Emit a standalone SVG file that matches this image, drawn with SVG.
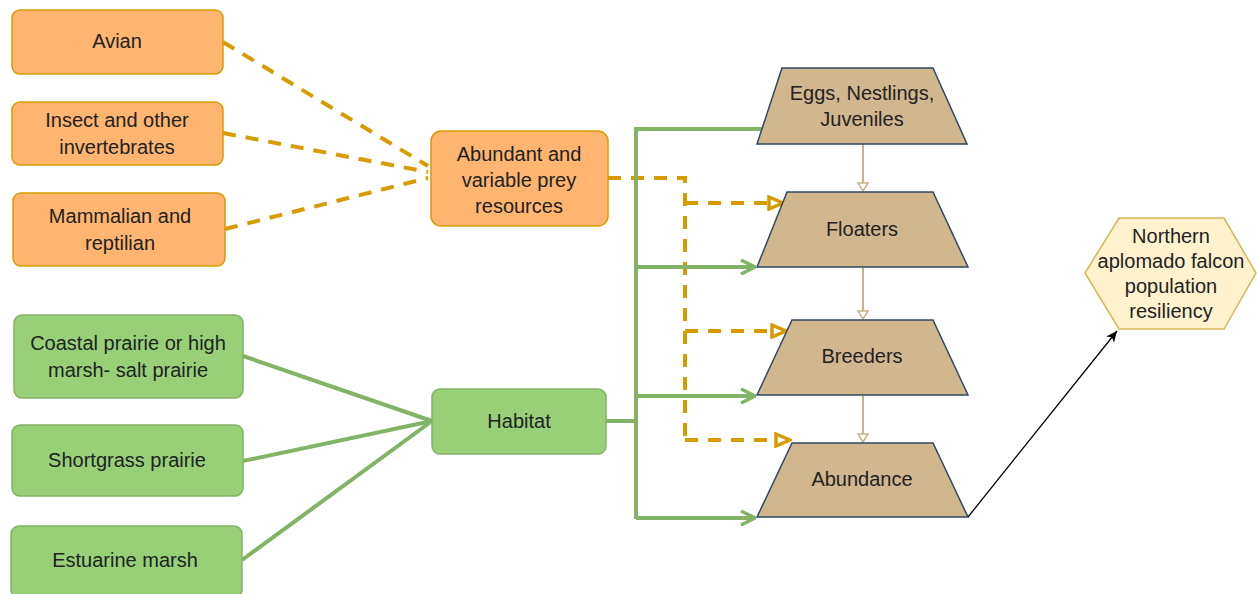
<svg xmlns="http://www.w3.org/2000/svg" width="1257" height="594" viewBox="0 0 1257 594">
<style>
.o{fill:#ffb570;stroke:#d79b00;stroke-width:1.5}
.g{fill:#97d077;stroke:#82b366;stroke-width:1.5}
.t{fill:#d0b78e;stroke:#2e4a62;stroke-width:1.5}
.h{fill:#fff2cc;stroke:#d6b656;stroke-width:1.5}
text{font-family:"Liberation Sans",Arial,sans-serif;font-size:20px;fill:#222;text-anchor:middle}
.od{fill:none;stroke:#d79b00;stroke-width:4;stroke-dasharray:13 10}
.gl{fill:none;stroke:#82b366;stroke-width:4}
.tl{fill:none;stroke:#c9b18a;stroke-width:2}
</style>
<defs>
<marker id="ao" viewBox="0 0 18 16" refX="17" refY="8" markerWidth="18" markerHeight="16" markerUnits="userSpaceOnUse" orient="auto"><path d="M2,2 L16,8 L2,14 Z" fill="#fff" stroke="#d79b00" stroke-width="3.5"/></marker>
<marker id="ag" viewBox="0 0 16 16" refX="15" refY="8" markerWidth="16" markerHeight="16" markerUnits="userSpaceOnUse" orient="auto"><path d="M1,1 L15,8 L1,15" fill="none" stroke="#82b366" stroke-width="3.5"/></marker>
<marker id="at" viewBox="0 0 10 12" refX="9" refY="6" markerWidth="10" markerHeight="12" markerUnits="userSpaceOnUse" orient="auto"><path d="M1,1 L9,6 L1,11 Z" fill="#fff" stroke="#c9b18a" stroke-width="1.5"/></marker>
<marker id="ab" viewBox="0 0 12 12" refX="11" refY="6" markerWidth="12" markerHeight="12" markerUnits="userSpaceOnUse" orient="auto"><path d="M0,1 L11,6 L0,11 L3,6 Z" fill="#000"/></marker>
</defs>
<g id="connectors">
<line class="od" x1="223" y1="42" x2="428" y2="166"/>
<line class="od" x1="223" y1="133" x2="428" y2="172"/>
<line class="od" x1="225" y1="229" x2="428" y2="178"/>
<polyline class="od" points="608,178 685,178 685,440"/>
<line class="od" x1="685" y1="203" x2="784" y2="203" marker-end="url(#ao)"/>
<line class="od" x1="685" y1="331" x2="787" y2="331" marker-end="url(#ao)"/>
<line class="od" x1="685" y1="440" x2="791" y2="440" marker-end="url(#ao)"/>
<line class="gl" x1="243" y1="356" x2="432" y2="421"/>
<line class="gl" x1="243" y1="461" x2="432" y2="421"/>
<line class="gl" x1="242" y1="560" x2="432" y2="421"/>
<polyline class="gl" points="606,421 636,421"/>
<polyline class="gl" points="772,129 636,129 636,519"/>
<line class="gl" x1="636" y1="267" x2="755" y2="267" marker-end="url(#ag)"/>
<line class="gl" x1="636" y1="396" x2="755" y2="396" marker-end="url(#ag)"/>
<line class="gl" x1="636" y1="518" x2="755" y2="518" marker-end="url(#ag)"/>
<line class="tl" x1="863" y1="144" x2="863" y2="191" marker-end="url(#at)"/>
<line class="tl" x1="863" y1="268" x2="863" y2="319" marker-end="url(#at)"/>
<line class="tl" x1="863" y1="396" x2="863" y2="442" marker-end="url(#at)"/>
<line x1="968" y1="517" x2="1117" y2="331" stroke="#000" stroke-width="1.3" marker-end="url(#ab)"/>
</g>
<g id="avian"><rect class="o" x="12" y="10" width="211" height="64" rx="8"/><text x="117" y="48">Avian</text></g>
<g id="insect"><rect class="o" x="12" y="102" width="211" height="63" rx="8"/><text x="117" y="127">Insect and other</text><text x="117" y="154">invertebrates</text></g>
<g id="mammalian"><rect class="o" x="13" y="193" width="212" height="73" rx="8"/><text x="120" y="223">Mammalian and</text><text x="120" y="250">reptilian</text></g>
<g id="prey"><rect class="o" x="431" y="131" width="177" height="95" rx="10"/><text x="519" y="161">Abundant and</text><text x="519" y="187">variable prey</text><text x="519" y="213">resources</text></g>
<g id="coastal"><rect class="g" x="14" y="315" width="229" height="83" rx="8"/><text x="128" y="350">Coastal prairie or high</text><text x="128" y="377">marsh- salt prairie</text></g>
<g id="shortgrass"><rect class="g" x="12" y="425" width="231" height="71" rx="8"/><text x="127" y="467">Shortgrass prairie</text></g>
<g id="estuarine"><rect class="g" x="11" y="526" width="231" height="72" rx="8"/><text x="125" y="567">Estuarine marsh</text></g>
<g id="habitat"><rect class="g" x="432" y="389" width="174" height="65" rx="8"/><text x="519" y="428">Habitat</text></g>
<g id="eggs"><polygon class="t" points="782,68 933,68 967,144 757,144"/><text x="862" y="100">Eggs, Nestlings,</text><text x="862" y="126">Juveniles</text></g>
<g id="floaters"><polygon class="t" points="787,192 933,192 968,267 757,267"/><text x="862" y="236">Floaters</text></g>
<g id="breeders"><polygon class="t" points="792,320 933,320 968,395 757,395"/><text x="862" y="363">Breeders</text></g>
<g id="abundance"><polygon class="t" points="792,443 933,443 968,517 757,517"/><text x="862" y="486">Abundance</text></g>
<g id="resiliency"><polygon class="h" points="1119,218 1224,218 1256,273 1224,329 1119,329 1085,273"/><text x="1171" y="243">Northern</text><text x="1171" y="268">aplomado falcon</text><text x="1171" y="293">population</text><text x="1171" y="318">resiliency</text></g>
</svg>
